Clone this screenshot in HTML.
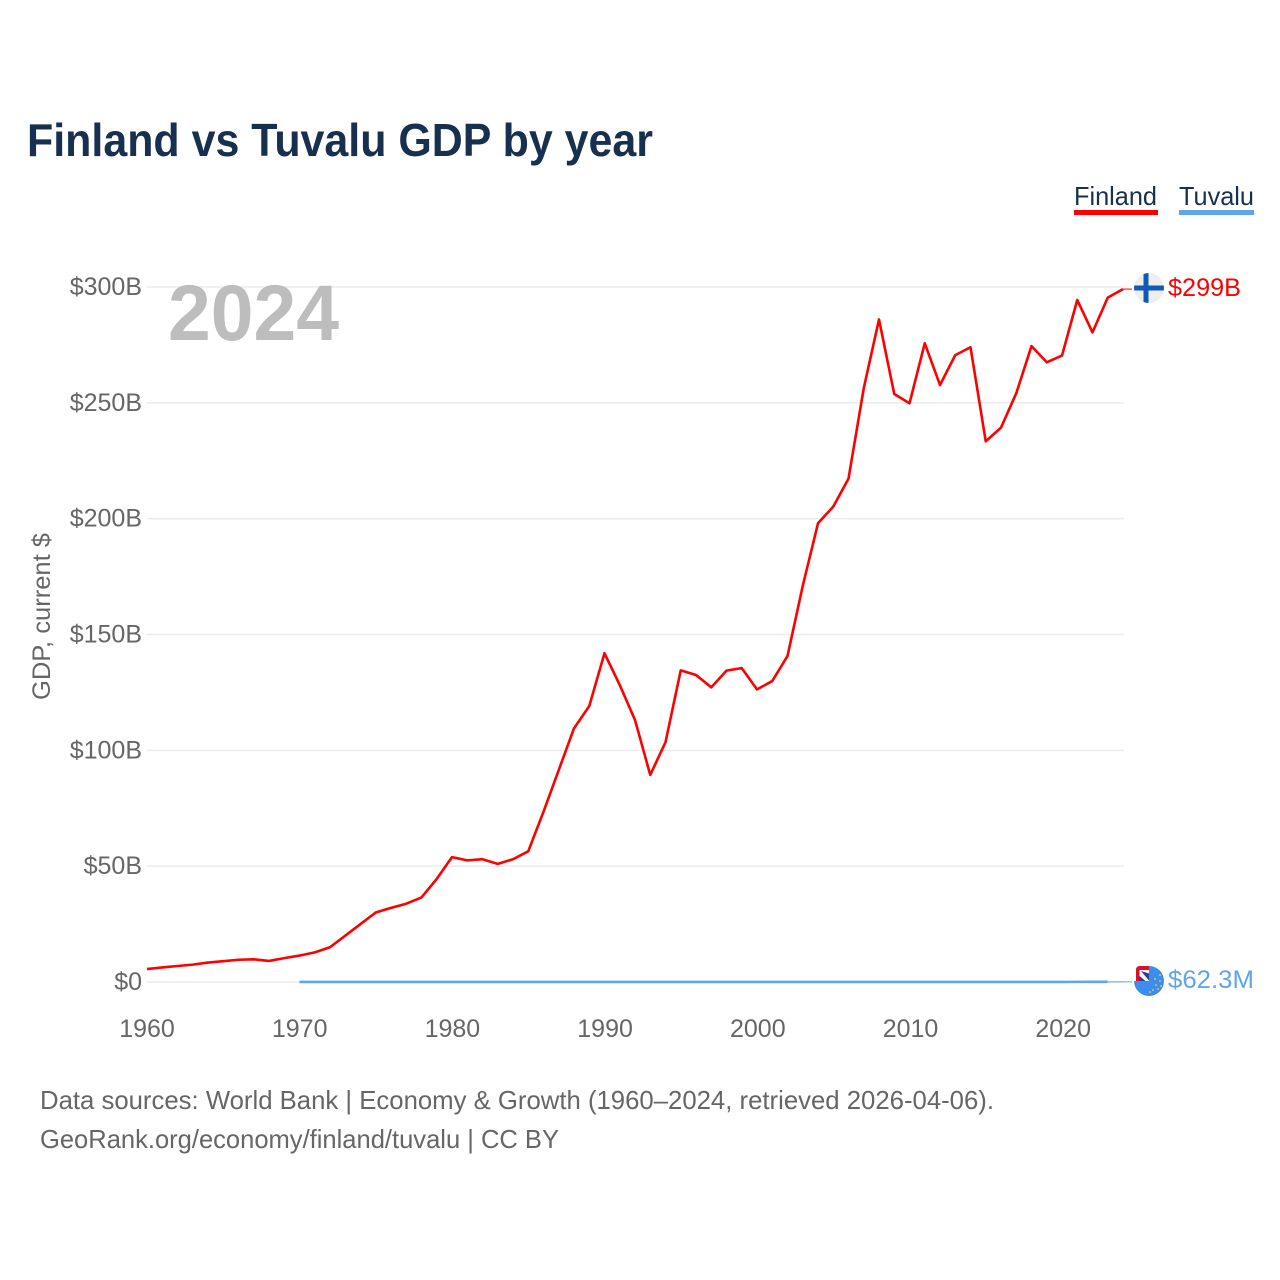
<!DOCTYPE html>
<html lang="en">
<head>
<meta charset="utf-8">
<title>Finland vs Tuvalu GDP by year</title>
<style>
html,body{margin:0;padding:0;background:#fff;}
svg{display:block;font-family:"Liberation Sans",sans-serif;}
</style>
</head>
<body>
<svg id="chart" xmlns="http://www.w3.org/2000/svg" width="1280" height="1280" viewBox="0 0 1280 1280">
  <defs>
    <clipPath id="flag-clip-fi"><circle cx="1149" cy="288" r="15"/></clipPath>
  </defs>
  <rect width="1280" height="1280" fill="#fff"/>
  <text x="27" y="156" font-size="46" font-weight="700" fill="#18304f" textLength="626" lengthAdjust="spacingAndGlyphs">Finland vs Tuvalu GDP by year</text>

  <g>
    <text x="1074" y="205" font-size="26" fill="#18304f" textLength="83" lengthAdjust="spacingAndGlyphs">Finland</text>
    <rect x="1074" y="210" width="84" height="5" fill="#ff0000"/>
  </g>
  <g>
    <text x="1179" y="205" font-size="26" fill="#18304f" textLength="75" lengthAdjust="spacingAndGlyphs">Tuvalu</text>
    <rect x="1179" y="210" width="75" height="5" fill="#60a5ec"/>
  </g>

  <g id="grid"></g>
  <g id="yticks"></g>
  <g id="xticks"></g>
  <text transform="translate(50,700) rotate(-90)" font-size="25" fill="#666" textLength="167" lengthAdjust="spacingAndGlyphs">GDP, current $</text>
  <text x="168" y="340" font-size="79" font-weight="700" fill="#bdbdbd" textLength="171" lengthAdjust="spacingAndGlyphs">2024</text>

  <g id="series"></g>

  <g clip-path="url(#flag-clip-fi)">
    <rect x="1134" y="273" width="30" height="30" fill="#eeeeee"/>
    <rect x="1134" y="285.5" width="30" height="5" fill="#1259b5"/>
    <rect x="1143.5" y="273" width="5" height="30" fill="#1259b5"/>
  </g>
  <g>
    <path d="M1136 982V970q0-4 4-4H1149V982Z" fill="#d8102c"/>
    <rect x="1139.5" y="970" width="9.5" height="11.5" fill="#f4f4f8"/>
    <path d="M1141 971L1149 980.5V973.5Z" fill="#27408b"/>
    <path d="M1139.5 976L1146 981.5H1139.5Z" fill="#27408b"/>
    <path d="M1134 981A15 15 0 1 0 1149 966V981Z" fill="#3b8eee"/>
    <g fill="#e0bf4a">
      <circle cx="1160" cy="975" r="1"/><circle cx="1155" cy="979" r="1"/>
      <circle cx="1160" cy="981" r="1"/><circle cx="1156" cy="985" r="1"/>
      <circle cx="1161" cy="986" r="1"/><circle cx="1153" cy="990" r="1"/>
      <circle cx="1158" cy="989" r="1"/><circle cx="1150" cy="992" r="1"/>
    </g>
  </g>

  <text x="1168" y="296" font-size="25" fill="#ff0000" textLength="73" lengthAdjust="spacingAndGlyphs">$299B</text>
  <text x="1168" y="988" font-size="25" fill="#60a5ec" textLength="86" lengthAdjust="spacingAndGlyphs">$62.3M</text>

  <text x="40" y="1109" font-size="26" fill="#666" textLength="954" lengthAdjust="spacingAndGlyphs">Data sources: World Bank | Economy &amp; Growth (1960–2024, retrieved 2026-04-06).</text>
  <text x="40" y="1148" font-size="26" fill="#666" textLength="519" lengthAdjust="spacingAndGlyphs">GeoRank.org/economy/finland/tuvalu | CC BY</text>
</svg>
<script>
const yTickValues = [0, 50, 100, 150, 200, 250, 300];
const yTickLabels = ["$0", "$50B", "$100B", "$150B", "$200B", "$250B", "$300B"];
const xTickYears = [1960, 1970, 1980, 1990, 2000, 2010, 2020];
const finlandStartYear = 1960;
const finlandGdp = [5.6,6.3,6.9,7.5,8.4,9.0,9.6,9.8,9.1,10.3,11.4,12.8,15,20,25,30,32,33.8,36.5,44.5,53.9,52.5,53,51,53,56.4,73.5,91.5,109.5,119.1,141.9,128.2,113.1,89.4,103.5,134.5,132.5,127.2,134.4,135.5,126.3,129.9,140.7,171,198,205.2,217.3,256.3,286,253.8,249.8,275.7,257.7,270.6,274,233.4,239.3,254.1,274.5,267.5,270.4,294.4,280.4,295.4,299.1];
const tuvaluStartYear = 1970;
const tuvaluGdp = [0.007,0.007,0.008,0.009,0.01,0.01,0.008,0.008,0.008,0.01,0.009,0.009,0.009,0.009,0.008,0.009,0.009,0.01,0.011,0.011,0.011,0.012,0.012,0.012,0.012,0.012,0.013,0.013,0.014,0.014,0.014,0.013,0.015,0.017,0.02,0.022,0.022,0.025,0.027,0.025,0.032,0.039,0.04,0.038,0.038,0.034,0.037,0.041,0.044,0.047,0.049,0.057,0.059,0.0623];

const svgNS = "http://www.w3.org/2000/svg";
const xScale = function (year) { return 147 + (year - 1960) * 15.25; };
const xLabelScale = function (year) { return 147 + (year - 1960) * 15.27; };
const yScale = function (v) { return 982 - v * (982 - 287) / 300; };
const gridLayer = document.getElementById("grid");
const yLayer = document.getElementById("yticks");
const xLayer = document.getElementById("xticks");
const seriesLayer = document.getElementById("series");

yTickValues.forEach(function (v, i) {
  const line = document.createElementNS(svgNS, "line");
  line.setAttribute("x1", 147);
  line.setAttribute("x2", 1124);
  line.setAttribute("y1", yScale(v));
  line.setAttribute("y2", yScale(v));
  line.setAttribute("stroke", "#ececec");
  line.setAttribute("stroke-width", "1.5");
  
  
  gridLayer.appendChild(line);
  const label = document.createElementNS(svgNS, "text");
  label.setAttribute("x", 142);
  label.setAttribute("y", yScale(v) + 8);
  label.setAttribute("text-anchor", "end");
  label.setAttribute("font-size", "25");
  label.setAttribute("fill", "#666");
  label.textContent = yTickLabels[i];
  
  
  yLayer.appendChild(label);
});

xTickYears.forEach(function (year) {
  const label = document.createElementNS(svgNS, "text");
  label.setAttribute("x", xLabelScale(year));
  label.setAttribute("y", 1037);
  label.setAttribute("text-anchor", "middle");
  label.setAttribute("font-size", "25");
  label.setAttribute("fill", "#666");
  label.textContent = String(year);
  
  
  xLayer.appendChild(label);
});

function pointsFor(startYear, values) {
  return values.map(function (v, i) {
    return xScale(startYear + i).toFixed(2) + "," + yScale(v).toFixed(2);
  }).join(" ");
}

const finlandLast = yScale(finlandGdp[finlandGdp.length - 1]);
const finlandLastX = xScale(finlandStartYear + finlandGdp.length - 1);
const tuvaluLast = yScale(tuvaluGdp[tuvaluGdp.length - 1]);
const tuvaluLastX = xScale(tuvaluStartYear + tuvaluGdp.length - 1);

const finlandConnector = document.createElementNS(svgNS, "line");
finlandConnector.setAttribute("x1", finlandLastX);
finlandConnector.setAttribute("x2", 1132);
finlandConnector.setAttribute("y1", finlandLast);
finlandConnector.setAttribute("y2", finlandLast);
finlandConnector.setAttribute("stroke", "#ff0000");
finlandConnector.setAttribute("stroke-width", "1");


seriesLayer.appendChild(finlandConnector);

const tuvaluConnector = document.createElementNS(svgNS, "line");
tuvaluConnector.setAttribute("x1", tuvaluLastX);
tuvaluConnector.setAttribute("x2", 1132);
tuvaluConnector.setAttribute("y1", tuvaluLast);
tuvaluConnector.setAttribute("y2", tuvaluLast);
tuvaluConnector.setAttribute("stroke", "#60a5ec");
tuvaluConnector.setAttribute("stroke-width", "1");


seriesLayer.appendChild(tuvaluConnector);

const finlandLine = document.createElementNS(svgNS, "polyline");
finlandLine.setAttribute("points", pointsFor(finlandStartYear, finlandGdp));
finlandLine.setAttribute("fill", "none");
finlandLine.setAttribute("stroke", "#ff0000");
finlandLine.setAttribute("stroke-width", "2.6");
finlandLine.setAttribute("stroke-linejoin", "round");


seriesLayer.appendChild(finlandLine);

const tuvaluLine = document.createElementNS(svgNS, "polyline");
tuvaluLine.setAttribute("points", pointsFor(tuvaluStartYear, tuvaluGdp));
tuvaluLine.setAttribute("fill", "none");
tuvaluLine.setAttribute("stroke", "#60a5ec");
tuvaluLine.setAttribute("stroke-width", "2.6");
tuvaluLine.setAttribute("stroke-linejoin", "round");


seriesLayer.appendChild(tuvaluLine);
</script>
</body>
</html>
